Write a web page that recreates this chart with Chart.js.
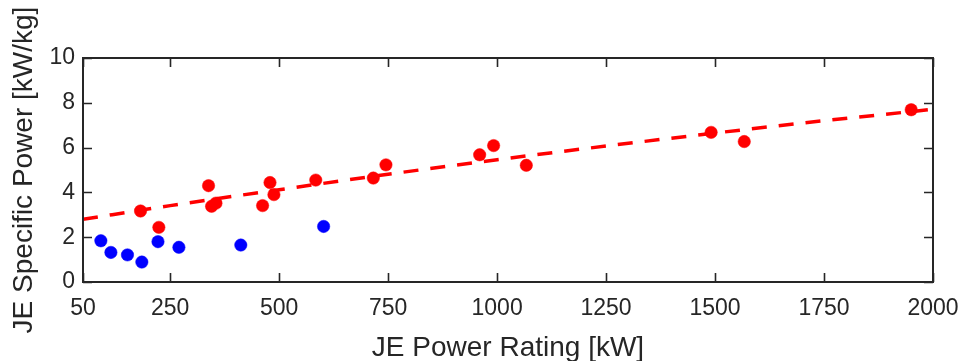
<!DOCTYPE html>
<html>
<head>
<meta charset="utf-8">
<script src="https://cdn.jsdelivr.net/npm/chart.js@4/dist/chart.umd.min.js"></script>
<style>
  html, body { margin: 0; padding: 0; background: #ffffff; }
  #c { display: block; }
</style>
</head>
<body>
<canvas id="c" width="963" height="361"></canvas>
<script>
// Axis ticks
const xTicks = [50, 250, 500, 750, 1000, 1250, 1500, 1750, 2000];
const yTicks = [0, 2, 4, 6, 8, 10];

// Lower group (blue markers): power rating [kW] and specific power [kW/kg]
const blueRating = [91, 114, 152, 185, 222, 270, 412, 602];
const bluePower  = [1.84, 1.32, 1.21, 0.89, 1.80, 1.55, 1.65, 2.48];

// Upper group (red markers)
const redRating = [182, 224, 338, 345, 355, 462, 479, 488, 584, 716, 745, 960, 992, 1067, 1491, 1567, 1950];
const redPower  = [3.17, 2.44, 4.30, 3.38, 3.52, 3.41, 4.44, 3.90, 4.55, 4.64, 5.23, 5.68, 6.09, 5.21, 6.68, 6.27, 7.69];

// Trend curve through the upper group
const trendRating = [50, 250, 500, 750, 1000, 1250, 1500, 1750, 2000];
const trendPower  = [2.80, 3.41, 4.12, 4.81, 5.46, 6.07, 6.65, 7.20, 7.71];

const toPoints = (xs, ys) => xs.map((x, i) => ({ x: x, y: ys[i] }));

const INK = '#262626';
const FONT = '"Liberation Sans", Arial, Helvetica, sans-serif';

// Boxed axes with inward tick marks on all four sides
const boxAxes = {
  id: 'boxAxes',
  afterDraw(chart) {
    const { ctx, chartArea: a, scales } = chart;
    const len = 9;
    ctx.save();
    ctx.strokeStyle = INK;
    ctx.lineWidth = 1.6;
    ctx.beginPath();
    xTicks.forEach(v => {
      const px = Math.round(scales.x.getPixelForValue(v)) + 0.5;
      ctx.moveTo(px, a.bottom); ctx.lineTo(px, a.bottom - len);
      ctx.moveTo(px, a.top);    ctx.lineTo(px, a.top + len);
    });
    yTicks.forEach(v => {
      const py = Math.round(scales.y.getPixelForValue(v)) + 0.5;
      ctx.moveTo(a.left, py);  ctx.lineTo(a.left + len, py);
      ctx.moveTo(a.right, py); ctx.lineTo(a.right - len, py);
    });
    ctx.stroke();
    ctx.lineWidth = 2;
    ctx.strokeRect(a.left, a.top, a.right - a.left, a.bottom - a.top);
    ctx.restore();
  }
};

new Chart(document.getElementById('c'), {
  type: 'scatter',
  data: {
    datasets: [
      {
        type: 'line',
        data: toPoints(trendRating, trendPower),
        borderColor: '#ff0000',
        borderWidth: 3.5,
        borderDash: [15, 12],
        pointRadius: 0,
        fill: false,
        cubicInterpolationMode: 'monotone',
        order: 0
      },
      {
        data: toPoints(redRating, redPower),
        backgroundColor: '#ff0000',
        borderColor: '#ff0000',
        borderWidth: 0.5,
        pointRadius: 6.2,
        order: 1
      },
      {
        data: toPoints(blueRating, bluePower),
        backgroundColor: '#0000ff',
        borderColor: '#0000ff',
        borderWidth: 0.5,
        pointRadius: 6.2,
        order: 2
      }
    ]
  },
  options: {
    responsive: false,
    animation: false,
    layout: { padding: { left: 0, top: 58, right: 30, bottom: 0 } },
    plugins: {
      legend: { display: false },
      tooltip: { enabled: false }
    },
    scales: {
      x: {
        type: 'linear',
        min: 50,
        max: 2000,
        afterBuildTicks: s => { s.ticks = xTicks.map(v => ({ value: v })); },
        afterFit: s => { s.height = 79; s.paddingLeft = 0; s.paddingRight = 0; },
        grid: { display: false, drawTicks: false },
        border: { display: false },
        ticks: {
          autoSkip: false,
          maxRotation: 0,
          padding: 13,
          color: INK,
          font: { family: FONT, size: 23 },
          callback: v => String(v)
        },
        title: {
          display: true,
          text: 'JE Power Rating [kW]',
          color: INK,
          font: { family: FONT, size: 28, lineHeight: 0.9 },
          padding: 0
        }
      },
      y: {
        type: 'linear',
        min: 0,
        max: 10,
        afterBuildTicks: s => { s.ticks = yTicks.map(v => ({ value: v })); },
        afterFit: s => { s.width = 83; s.paddingTop = 0; s.paddingBottom = 0; },
        grid: { display: false, drawTicks: false },
        border: { display: false },
        ticks: {
          padding: 8,
          color: INK,
          font: { family: FONT, size: 23 },
          callback: v => String(v)
        },
        title: {
          display: true,
          text: 'JE Specific Power [kW/kg]',
          color: INK,
          font: { family: FONT, size: 28, lineHeight: 1.2 },
          padding: { top: 7, bottom: 0 }
        }
      }
    }
  },
  plugins: [boxAxes]
});
</script>
</body>
</html>
